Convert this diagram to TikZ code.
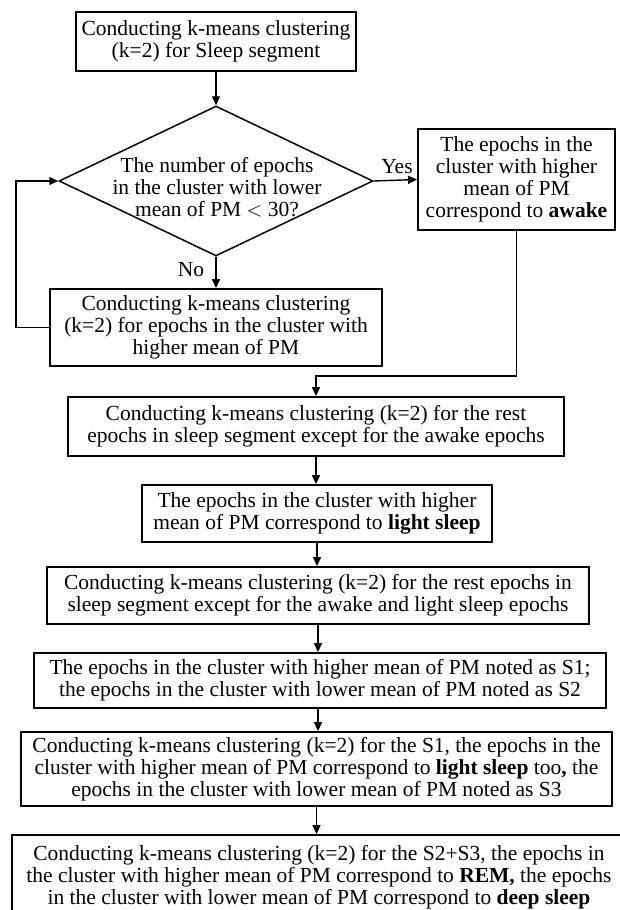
\documentclass[tikz,border=0pt]{standalone}
\usepackage{fontspec}
\setmainfont{Liberation Serif}
\usetikzlibrary{arrows.meta,shapes.geometric}
\begin{document}
\begin{tikzpicture}[x=1pt,y=-1pt,
  box/.style={draw,line width=1.8pt,inner sep=0pt,align=center,font=\fontsize{21.5}{22}\selectfont},
  lbl/.style={inner sep=0pt,align=center,font=\fontsize{21.5}{22}\selectfont},
  arr/.style={line width=1.4pt,-{Triangle[length=9pt,width=8pt]}},
  con/.style={line width=1.4pt}]
\useasboundingbox[fill=white] (0,0) rectangle (620,910);
\node[box,minimum width=280pt,minimum height=59pt] (b1) at (216,41.5)
  {Conducting k-means clustering\\(k=2) for Sleep segment};
\node[draw,diamond,line width=1.5pt,minimum width=314pt,minimum height=150pt,inner sep=0pt] (dia) at (216,181) {};
\node[lbl] (dtext) at (217,187) {The number of epochs\\in the cluster with lower\\mean of PM {$<$} 30?};
\node[box,minimum width=197pt,minimum height=101pt] (awake) at (516.5,179.5)
  {The epochs in the\\cluster with higher\\mean of PM\\correspond to \textbf{awake}};
\node[box,minimum width=332pt,minimum height=77pt] (b3) at (216,327.5)
  {Conducting k-means clustering\\(k=2) for epochs in the cluster with\\higher mean of PM};
\node[box,minimum width=496pt,minimum height=59pt] (b4) at (316,426.5)
  {Conducting k-means clustering (k=2) for the rest\\epochs in sleep segment except for the awake epochs};
\node[box,minimum width=350pt,minimum height=57pt] (b5) at (317,513.5)
  {The epochs in the cluster with higher\\mean of PM correspond to \textbf{light sleep}};
\node[box,minimum width=542pt,minimum height=57pt] (b6) at (318,595.5)
  {Conducting k-means clustering (k=2) for the rest epochs in\\sleep segment except for the awake and light sleep epochs};
\node[box,minimum width=572pt,minimum height=55pt] (b7) at (320,680.5)
  {The epochs in the cluster with higher mean of PM noted as S1;\\the epochs in the cluster with lower mean of PM noted as S2};
\node[box,minimum width=591pt,minimum height=74pt] (b8) at (316.5,769)
  {Conducting k-means clustering (k=2) for the S1, the epochs in the\\cluster with higher mean of PM correspond to \textbf{light sleep} too\textbf{,} the\\epochs in the cluster with lower mean of PM noted as S3};
\node[box,minimum width=614pt,minimum height=84pt] (b9) at (319,877)
  {Conducting k-means clustering (k=2) for the S2+S3, the epochs in\\the cluster with higher mean of PM correspond to \textbf{REM,} the epochs\\in the cluster with lower mean of PM correspond to \textbf{deep sleep}};
\node[lbl] (yes) at (397,167) {Yes};
\node[lbl] (no) at (191,270) {No};
\coordinate (j1) at (316,376);
\coordinate (j2) at (16,0);
\draw[arr] (b1.south) -- (dia.north);
\draw[arr] (dia.east) -- (awake.west);
\draw[arr] (dia.south) -- (b3.north);
\draw[arr] (b3.west) -- (b3.west -| j2) |- (dia.west);
\draw[arr] (awake.south) -- (awake.south |- j1) -- (j1) -- (b4.north);
\draw[arr] (b4.south) -- (b4.south |- b5.north);
\draw[arr] (b5.south) -- (b5.south |- b6.north);
\draw[arr] (b6.south) -- (b6.south |- b7.north);
\draw[arr] (b7.south -| b6.south) -- (b6.south |- b8.north);
\draw[arr] (b8.south) -- (b8.south |- b9.north);
\end{tikzpicture}
\end{document}
